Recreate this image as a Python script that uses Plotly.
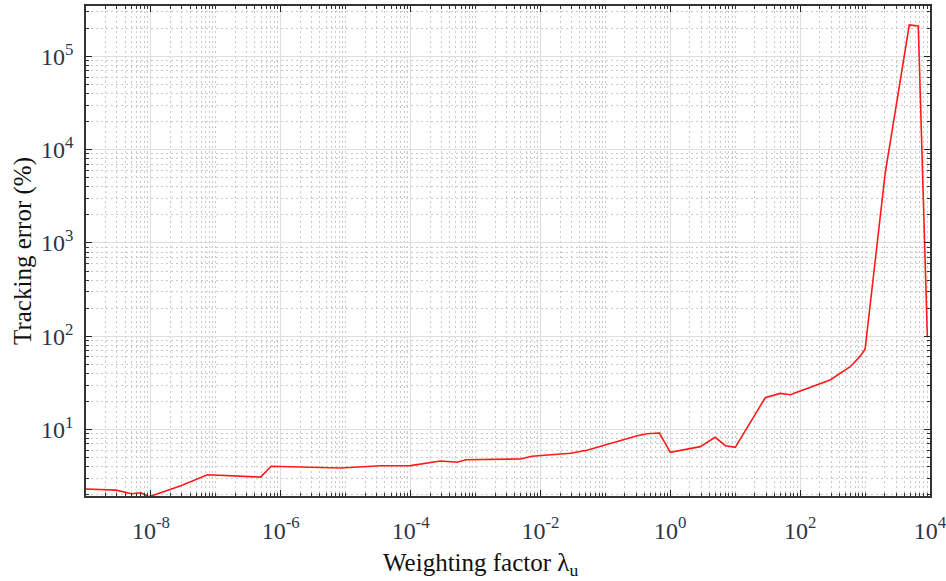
import plotly.graph_objects as go

# Data
weighting_factor = [1e-9, 2.9e-9, 5.0e-9, 7.1e-9, 9.3e-9, 2.9e-8, 7.4e-8, 4.9e-7, 7.1e-7,
                    8.3e-6, 3.5e-5, 1.0e-4, 2.9e-4, 5.2e-4, 7.1e-4, 4.9e-3, 7.4e-3,
                    2.9e-2, 5.2e-2, 8.3e-2, 0.31, 0.44, 0.68, 1.0, 2.9, 4.9, 7.1, 10,
                    29, 49, 71, 89, 290, 590, 830, 1000, 2040, 4800, 6600, 9100]
tracking_error = [2.30, 2.24, 2.05, 2.10, 1.90, 2.50, 3.27, 3.09, 4.03,
                  3.87, 4.09, 4.10, 4.59, 4.45, 4.74, 4.83, 5.16,
                  5.56, 5.98, 6.55, 8.59, 9.02, 9.17, 5.69, 6.55, 8.24, 6.70, 6.44,
                  21.9, 24.4, 23.6, 25.1, 34.0, 47.1, 60.4, 72.4, 5580, 2.18e5, 2.12e5, 100]

x_tick_exps = [-8, -6, -4, -2, 0, 2, 4]
y_tick_exps = [1, 2, 3, 4, 5]

x_tickvals = [10.0 ** e for e in x_tick_exps]
x_ticktext = ["10<sup>%d</sup>" % e for e in x_tick_exps]
y_tickvals = [10.0 ** e for e in y_tick_exps]
y_ticktext = ["10<sup>%d</sup>" % e for e in y_tick_exps]

x_minor = []
for k in range(-9, 4):
    for d in range(1, 10):
        if d == 1 and k % 2 == 0:
            continue
        x_minor.append(d * 10.0 ** k)
y_minor = []
for k in range(0, 6):
    for d in range(2, 10):
        y_minor.append(d * 10.0 ** k)

fig = go.Figure()
fig.add_trace(go.Scatter(x=weighting_factor, y=tracking_error, mode="lines",
                         line=dict(color="#ff1a1a", width=1.6), showlegend=False))

tick_font = dict(family="Liberation Serif", size=24, color="#2a3548")
title_font = dict(family="Liberation Serif", size=25, color="#111111")
minor_common = dict(ticks="inside", ticklen=3, tickcolor="#333333", tickwidth=1,
                    showgrid=True, gridcolor="#cacaca", griddash="2px,3px", gridwidth=1)

fig.update_xaxes(type="log", range=[-9, 4], tickmode="array", tickvals=x_tickvals,
                 ticktext=x_ticktext, ticks="inside", ticklen=6, tickcolor="#222222",
                 tickwidth=1, showline=True, linecolor="#333333", linewidth=1.5,
                 mirror="allticks", showgrid=True, gridcolor="#dedede", gridwidth=1.3,
                 tickfont=tick_font, ticklabelstandoff=12, zeroline=False,
                 ticklabeloverflow="allow",
                 minor=dict(tickmode="array", tickvals=x_minor, **minor_common))
fig.update_yaxes(type="log", range=[0.287, 5.541], tickmode="array", tickvals=y_tickvals,
                 ticktext=y_ticktext, ticks="inside", ticklen=6, tickcolor="#222222",
                 tickwidth=1, showline=True, linecolor="#333333", linewidth=1.5,
                 mirror="allticks", showgrid=True, gridcolor="#dedede", gridwidth=1.3,
                 tickfont=tick_font, ticklabelstandoff=6, zeroline=False,
                 minor=dict(tickmode="array", tickvals=y_minor, **minor_common),
                 title=dict(text="Tracking error (%)", font=title_font, standoff=2))

fig.add_annotation(text="Weighting factor λ<sub>u</sub>", xref="paper", yref="paper",
                   x=0.468, y=-0.105, xanchor="center", yanchor="top",
                   showarrow=False, font=title_font)

fig.update_layout(width=946, height=581, margin=dict(l=86, r=16, t=6, b=85, autoexpand=False),
                  paper_bgcolor="white", plot_bgcolor="white")

fig.write_html("out.html", config={"displayModeBar": False},
               post_script="document.body.style.margin='0px';")
